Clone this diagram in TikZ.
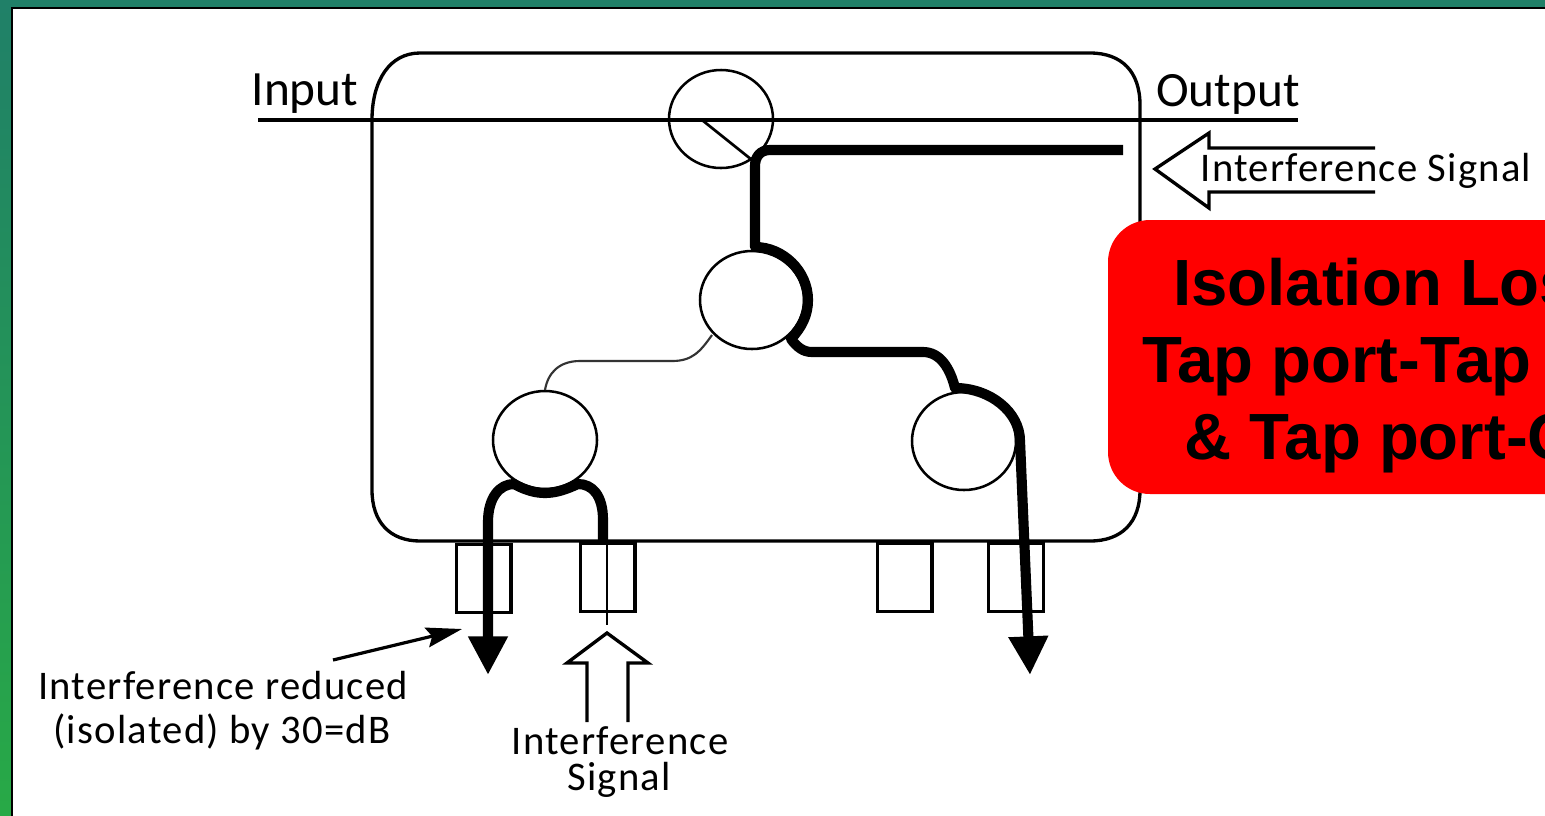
\documentclass[tikz,border=0pt]{standalone}
\usepackage{fontspec}
\setmainfont{Carlito}
\newfontfamily\lblfont{Carlito}[LetterSpace=3]
\newfontfamily\boldfont{Liberation Sans}[BoldFont={Liberation Sans Bold}]
\usetikzlibrary{arrows.meta,shapes.geometric}
\definecolor{slidetop}{RGB}{32,128,104}
\definecolor{slidebot}{RGB}{40,170,70}
\tikzset{
  coupler/.style={draw, ellipse, line width=1.9pt, minimum width=78pt, minimum height=73.5pt, inner sep=0pt},
  tapport/.style={draw, line width=2.5pt, minimum width=41pt, minimum height=51pt, inner sep=0pt},
  thickpath/.style={line width=7.6pt, line join=round},
  heavyarrow/.style={thickpath, -{Triangle[width=28pt,length=29pt]}},
  hollowarrow/.style={line width=2.5pt, line join=miter},
  lbl/.style={font=\lblfont\fontsize{30.5pt}{30.5pt}\selectfont, inner sep=0pt, anchor=base},
  biglbl/.style={font=\fontsize{37pt}{37pt}\selectfont, inner sep=0pt, anchor=base},
  redlbl/.style={font=\boldfont\bfseries\fontsize{49pt}{49pt}\selectfont, inner sep=0pt, anchor=base west}
}
\begin{document}
\begin{tikzpicture}[x=0.75pt,y=-0.75pt]
  \useasboundingbox (0,0) rectangle (1545,815);
  % slide background
  \shade[top color=slidetop, bottom color=slidebot] (0,0) rectangle (1560,830);
  \fill[white] (12,8) rectangle (1560,830);
  \draw[line width=2pt] (12,830) -- (12,8) -- (1560,8);
  % housing
  \draw[line width=2.5pt] (420,53) -- (1090,53) .. controls (1122,53) and (1140,72) .. (1140,105)
    -- (1140,490) .. controls (1140,522) and (1122,541) .. (1090,541)
    -- (420,541) .. controls (390,541) and (372,522) .. (372,490)
    -- (372,120) .. controls (372,80) and (390,53) .. (420,53) -- cycle;
  % through line
  \coordinate (in) at (258,120);
  \coordinate (out) at (1298,120);
  \draw[line width=2.5pt] (in) -- (out);
  % couplers
  \node[coupler] (top) at (721,119) {};
  \node[coupler] (mid) at (752,300) {};
  \node[coupler] (left) at (545,440) {};
  \node[coupler] (right) at (964,441) {};
  % ports
  \node[tapport] (p1) at (483.5,578.5) {};
  \node[tapport] (p2) at (607.5,577.5) {};
  \node[tapport] (p3) at (904.5,577.5) {};
  \node[tapport] (p4) at (1016,577.5) {};
  % signal paths
  \draw[line width=2pt] (702,120) -- (752,160);
  \draw[line width=1.6pt, black!80] (712,335) .. controls (700,352) and (692,361) .. (672,361)
    -- (580,361) .. controls (560,361) and (548,372) .. (545,390);
  \coordinate (isoend) at (1123,150);
  \draw[heavyarrow] (isoend) -- (770,150) .. controls (760,150) and (755,157) .. (755,166) -- (755,247)
    .. controls (783,247) and (808,271) .. (808,300)
    .. controls (808,315) and (802,327) .. (791,339)
    .. controls (797,347) and (803,352) .. (812,352)
    -- (923,352) .. controls (940,352) and (950,368) .. (955,388)
    .. controls (990,388) and (1020,412) .. (1020,441)
    -- (1030,675);
  \draw[heavyarrow] (603,541) -- (603,520) .. controls (603,495) and (592,484) .. (578,484)
    .. controls (565,490) and (555,493) .. (545,493)
    .. controls (535,493) and (525,490) .. (514,484)
    .. controls (500,484) and (488,497) .. (488,522) -- (488,675);
  \draw[line width=2pt] (607,541) -- (607,625);
  % hollow arrows
  \draw[hollowarrow] (587,722) -- (587,663) -- (567,663) -- (607,633) -- (648,663) -- (628,663) -- (628,722);
  \draw[hollowarrow] (1375,148) -- (1209,148) -- (1209,133) -- (1155,169) -- (1209,208) -- (1209,192) -- (1375,192);
  % labels
  \node[biglbl] (inputlbl) at (305,105) {Input};
  \node[biglbl] (outputlbl) at (1228,106) {Output};
  \node[lbl] (siglbl) at (1366,181) {Interference Signal};
  \node[lbl] (redlbla) at (223,699) {Interference reduced};
  \node[lbl] (redlblb) at (222,743) {(isolated) by 30=dB};
  \node[lbl] (intlbla) at (620,754) {Interference};
  \node[lbl] (intlblb) at (619,790) {Signal};
  \coordinate (redstart) at (333,660);
  \draw[line width=2.4pt, -{Stealth[width=15pt,length=27pt,inset=4pt]}] (redstart) -- (462,629);
  % red box
  \fill[red] (1600,220) -- (1150,220) arc[start angle=-90, end angle=-180, radius=42]
    -- (1108,452) arc[start angle=180, end angle=90, radius=42] -- (1600,494) -- cycle;
  \node[redlbl] (isoa) at (1173,305) {Isolation Loss};
  \node[redlbl] (isob) at (1142,382) {Tap port-Tap port};
  \node[redlbl] (isoc) at (1184,459) {\& Tap port-Output};
\end{tikzpicture}
\end{document}
